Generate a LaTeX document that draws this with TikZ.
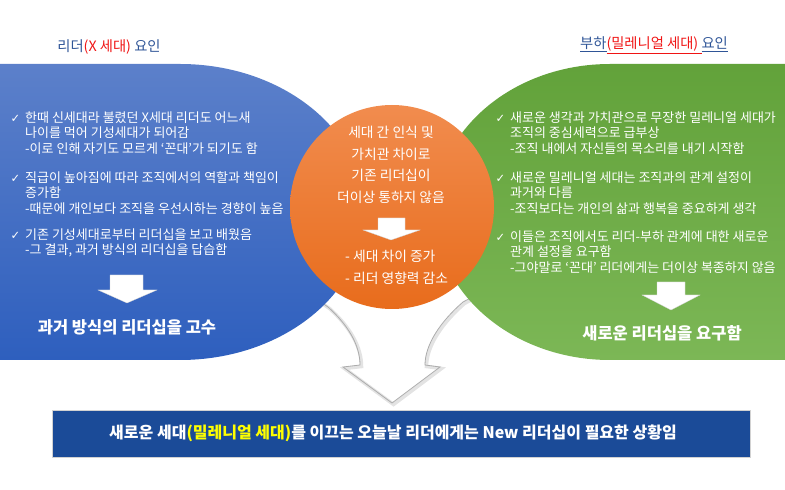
\documentclass[tikz,border=0pt]{standalone}
\usepackage{fontspec}
\setmainfont{Noto Sans CJK KR}
\newfontfamily\symfont{DejaVu Sans}
\definecolor{blueTop}{RGB}{92,128,202}
\definecolor{blueBot}{RGB}{46,95,190}
\definecolor{greenTop}{RGB}{98,162,58}
\definecolor{greenBot}{RGB}{124,183,86}
\definecolor{orTop}{RGB}{241,140,78}
\definecolor{orBot}{RGB}{232,108,28}
\definecolor{bannerblue}{RGB}{27,75,152}
\definecolor{titleblue}{RGB}{47,85,151}
\definecolor{titlered}{RGB}{240,20,20}
\definecolor{hiyellow}{RGB}{255,255,0}
\newcommand\mychk{\llap{{\symfont\fontsize{11.5}{11.5}\selectfont ✓}\hspace{5pt}}}
\newcommand\blocktext[1]{\begin{tabular}[t]{@{}l@{}}#1\end{tabular}}
\tikzset{
  bodytext/.style={text=white, inner sep=0pt, anchor=base west, font=\fontsize{13}{15.5}\selectfont},
  midtext/.style={text=white, inner sep=0pt, font=\fontsize{13.8}{21.7}\selectfont},
  bigtext/.style={text=white, inner sep=0pt, font=\fontsize{16.5}{16.5}\selectfont\bfseries},
  bantext/.style={text=white, inner sep=0pt, font=\fontsize{16}{16}\selectfont\bfseries},
  titletext/.style={inner sep=0pt, font=\fontsize{14.3}{14.3}\selectfont},
  warrow/.style={fill=white, draw=gray!35, line width=0.3pt, line join=miter},
  bigline/.style={line join=miter}
}
\begin{document}
\begin{tikzpicture}[x=1pt,y=1pt]
\useasboundingbox (0,0) rectangle (785,490);
% big outlined down arrow
\path[fill=white] (315,192) -- (328,183) .. controls (348,165) and (360,145) .. (360,125) -- (343,123) -- (392,87) -- (440,123) -- (425,125) .. controls (425,145) and (440,168) .. (463,188) -- (478,196) -- (392,260) -- cycle;
\draw[bigline, gray!22, line width=3.5pt, shift={(1.5,-1.5)}] (315,192) -- (328,183) .. controls (348,165) and (360,145) .. (360,125) -- (343,123) -- (392,87) -- (440,123) -- (425,125) .. controls (425,145) and (440,168) .. (463,188) -- (478,196);
\draw[bigline, gray!65, line width=0.8pt] (315,192) -- (328,183) .. controls (348,165) and (360,145) .. (360,125) -- (343,123) -- (392,87) -- (440,123) -- (425,125) .. controls (425,145) and (440,168) .. (463,188) -- (478,196);
% blue shape
\shade[top color=blueTop, bottom color=blueBot] (0,426) -- (180,426) arc[start angle=90, end angle=-90, x radius=185pt, y radius=148pt] -- (0,130) -- cycle;
% green shape
\shade[top color=greenTop, bottom color=greenBot] (785,426) -- (610,426) arc[start angle=90, end angle=270, x radius=175pt, y radius=148pt] -- (785,130) -- cycle;
% orange circle
\shade[top color=orTop, bottom color=orBot] (392,283) circle[radius=102pt];
% white arrows
\path[warrow] (110,215) -- (143,215) -- (143,200) -- (157,200) -- (127,187) -- (98,200) -- (110,200) -- cycle;
\path[warrow] (657,208) -- (685,208) -- (685,195) -- (700,195) -- (671,180) -- (642,195) -- (657,195) -- cycle;
\path[warrow] (378,272) -- (405,272) -- (405,260) -- (420,260) -- (391,250) -- (363,260) -- (378,260) -- cycle;
% titles
\node[titletext, text=titleblue] (tleft) at (109,443) {리더{\color{titlered}(X 세대)} 요인};
\node[titletext, text=titleblue] (tright) at (654,445) {\underline{부하}{\color{titlered}\underline{(밀레니얼 세대)\ }}\underline{요인}};
% left text
\node[bodytext] (l1) at (25,367.5) {\blocktext{\mychk 한때 신세대라 불렸던 X세대 리더도 어느새\\ 나이를 먹어 기성세대가 되어감\\ -이로 인해 자기도 모르게 ‘꼰대’가 되기도 함}};
\node[bodytext] (l2) at (25,307.5) {\blocktext{\mychk 직급이 높아짐에 따라 조직에서의 역할과 책임이\\ 증가함\\ -때문에 개인보다 조직을 우선시하는 경향이 높음}};
\node[bodytext] (l3) at (25,250.5) {\blocktext{\mychk 기존 기성세대로부터 리더십을 보고 배웠음\\ -그 결과, 과거 방식의 리더십을 답습함}};
\node[bigtext] (lres) at (127,163) {과거 방식의 리더십을 고수};
% right text
\node[bodytext] (r1) at (510,367.5) {\blocktext{\mychk 새로운 생각과 가치관으로 무장한 밀레니얼 세대가\\ 조직의 중심세력으로 급부상\\ -조직 내에서 자신들의 목소리를 내기 시작함}};
\node[bodytext] (r2) at (510,307.5) {\blocktext{\mychk 새로운 밀레니얼 세대는 조직과의 관계 설정이\\ 과거와 다름\\ -조직보다는 개인의 삶과 행복을 중요하게 생각}};
\node[bodytext] (r3) at (510,248.5) {\blocktext{\mychk 이들은 조직에서도 리더-부하 관계에 대한 새로운\\ 관계 설정을 요구함\\ -그야말로 ‘꼰대’ 리더에게는 더이상 복종하지 않음}};
\node[bigtext] (rres) at (662,157) {새로운 리더십을 요구함};
% center text
\node[midtext, anchor=base] (c1) at (391,352.5) {\begin{tabular}[t]{@{}c@{}}세대 간 인식 및\\ 가치관 차이로\\ 기존 리더십이\\ 더이상 통하지 않음\end{tabular}};
\node[midtext, anchor=base west] (c2) at (345,228.5) {\begin{tabular}[t]{@{}l@{}}- 세대 차이 증가\\ - 리더 영향력 감소\end{tabular}};
% banner
\node[fill=bannerblue, draw=gray!35, line width=0.4pt, minimum width=698pt, minimum height=47pt, inner sep=0pt, anchor=south west] (ban) at (52,33) {};
\node[bantext] (bantext) at (393,57) {새로운 세대{\color{hiyellow}(밀레니얼 세대)}를 이끄는 오늘날 리더에게는 New 리더십이 필요한 상황임};
\end{tikzpicture}
\end{document}
